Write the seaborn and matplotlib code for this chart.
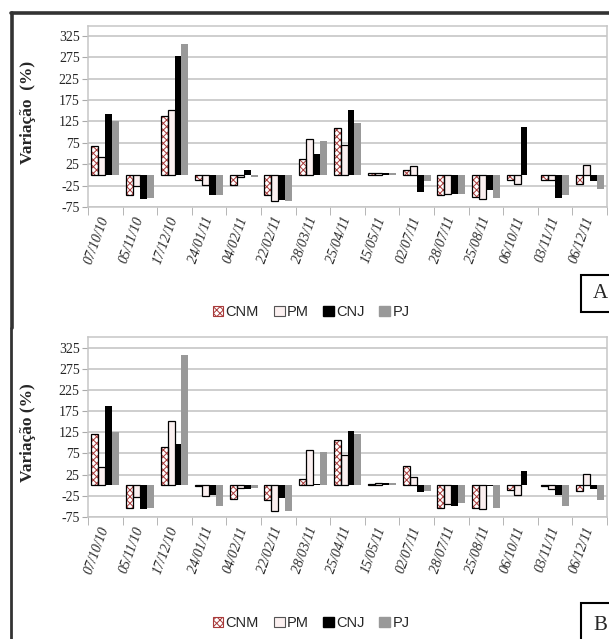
import matplotlib
matplotlib.use("Agg")
import matplotlib.pyplot as plt
import pandas as pd
import seaborn as sns
from matplotlib.patches import Rectangle, Patch
from matplotlib.lines import Line2D

dates = ["07/10/10", "05/11/10", "17/12/10", "24/01/11", "04/02/11", "22/02/11", "28/03/11",
         "25/04/11", "15/05/11", "02/07/11", "28/07/11", "25/08/11", "06/10/11", "03/11/11", "06/12/11"]
series = ["CNM", "PM", "CNJ", "PJ"]

# painel A
cnm_a = [67, -47, 137, -12, -23, -47, 37, 110, 5, 11, -47, -52, -11, -11, -21]
pm_a = [43, -27, 152, -23, -6, -61, 85, 70, 5, 20, -45, -56, -22, -11, 23]
cnj_a = [143, -56, 277, -47, 12, -59, 48, 151, 5, -39, -45, -35, 112, -55, -14]
pj_a = [127, -53, 307, -47, -5, -61, 80, 121, 5, -15, -45, -53, 0, -47, -33]

# painel B
cnm_b = [120, -54, 90, -1, -32, -34, 14, 106, 4, 45, -53, -53, -11, -1, -14]
pm_b = [43, -27, 152, -25, -6, -62, 84, 72, 6, 20, -45, -57, -22, -10, 26]
cnj_b = [187, -57, 98, -24, -10, -31, 3, 127, 5, -17, -50, -1, 34, -23, -9]
pj_b = [126, -54, 307, -48, -6, -62, 78, 121, 6, -14, -41, -53, 0, -48, -34]

yticks = [-75, -25, 25, 75, 125, 175, 225, 275, 325]

sns.set_style("white")
plt.rcParams["hatch.linewidth"] = 0.7

W, H = 609, 639
fig = plt.figure(figsize=(W / 100, H / 100), dpi=100)

def fx(px):
    return px / W

def fy(py):
    return 1 - py / H

colors = {"CNM": "white", "PM": "#fbf0f0", "CNJ": "black", "PJ": "#999999"}

def draw_panel(ax, vals, ylabel, ytop, label_y):
    df = pd.DataFrame({
        "data": dates * 4,
        "serie": [s for s in series for _ in dates],
        "valor": [v for arr in vals for v in arr],
    })
    sns.barplot(data=df, x="data", y="valor", hue="serie", hue_order=series,
                palette=colors, saturation=1, width=0.8, errorbar=None,
                legend=False, ax=ax)
    for name, cont in zip(series, ax.containers):
        for p in cont:
            if name == "CNM":
                p.set_hatch("xxxxx")
                p.set_edgecolor("#a83a3a")
                p.set_linewidth(0)
                ax.add_patch(Rectangle(p.get_xy(), p.get_width(), p.get_height(),
                                       fill=False, ec="black", lw=0.9, zorder=3))
            elif name == "PM":
                p.set_edgecolor("black")
                p.set_linewidth(0.9)
            else:
                p.set_linewidth(0)
    ax.set_xlim(-0.5, 14.5)
    ax.set_ylim(-75, ytop)
    ax.set_yticks(yticks)
    ax.set_yticklabels([str(t) for t in yticks], family="Liberation Serif", size=10)
    ax.yaxis.grid(True, color="#c6c6c6", lw=1.2)
    ax.set_axisbelow(True)
    for s in ax.spines.values():
        s.set_color("#c6c6c6")
        s.set_linewidth(1.1)
    ax.tick_params(axis="y", length=4, color="#aaaaaa", pad=2, left=True)
    ax.set_xticks(range(len(dates)))
    ax.set_xticklabels(dates, rotation=70, ha="right", va="center",
                       rotation_mode="anchor", family="Liberation Serif",
                       style="italic", size=10)
    ax.tick_params(axis="x", which="major", length=0, pad=7)
    ax.set_xticks([i - 0.5 for i in range(len(dates) + 1)], minor=True)
    ax.tick_params(axis="x", which="minor", length=6, color="#aaaaaa", bottom=True)
    ax.set_xlabel("")
    ax.set_ylabel(ylabel, family="Liberation Serif", fontweight="bold", size=12.5)
    ax.yaxis.set_label_coords(-0.10, label_y)

ax_a = fig.add_axes([fx(88), fy(207), fx(607) - fx(88), fy(26) - fy(207)])
draw_panel(ax_a, [cnm_a, pm_a, cnj_a, pj_a], "Variação  (%)", 348, 0.52)

ax_b = fig.add_axes([fx(88), fy(517), fx(607) - fx(88), fy(337) - fy(517)])
draw_panel(ax_b, [cnm_b, pm_b, cnj_b, pj_b], "Variação (%)", 350, 0.47)

# legendas
handles = [
    Patch(facecolor="white", edgecolor="#a83a3a", hatch="xxxxx", lw=0.8),
    Patch(facecolor="#fbf0f0", edgecolor="#555555", lw=0.8),
    Patch(facecolor="black", edgecolor="black"),
    Patch(facecolor="#999999", edgecolor="#999999"),
]
for ly in (312, 623):
    fig.legend(handles, series, loc="center", bbox_to_anchor=(fx(311), fy(ly)),
               ncol=4, frameon=False, handlelength=0.75, handleheight=0.75,
               handletextpad=0.15, columnspacing=1.0,
               prop={"family": "Liberation Sans", "size": 10.5})

# molduras dos paineis
fig.add_artist(Line2D([fx(11), fx(612)], [fy(13), fy(13)], color="#333333", lw=2.6))
fig.add_artist(Line2D([fx(11.5), fx(11.5)], [fy(13), fy(328)], color="#333333", lw=2.6))
fig.add_artist(Line2D([fx(11), fx(11)], [fy(328), fy(642)], color="#333333", lw=2.0))

for letter, top, bottom in (("A", 275, 312), ("B", 603, 642)):
    fig.add_artist(Rectangle((fx(581), fy(bottom)), fx(40), (top - bottom) / -H,
                             facecolor="white", edgecolor="black", lw=1.5))
    fig.text(fx(600), fy((top + bottom) / 2 + (3 if letter == "B" else 0)), letter,
             ha="center", va="center", family="Liberation Serif", size=15)

fig.savefig("out.png", dpi=100)
